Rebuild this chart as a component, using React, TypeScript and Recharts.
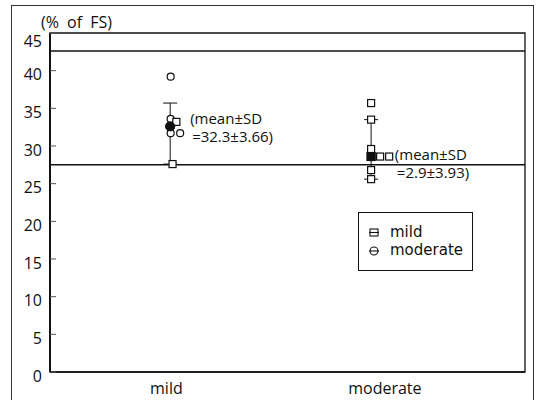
import {
  ComposedChart,
  ErrorBar,
  Legend,
  ReferenceArea,
  ReferenceDot,
  ReferenceLine,
  Scatter,
  XAxis,
  YAxis,
} from "recharts";

const categories = ["mild", "moderate"];
const categoryTicks = [2.45, 7.05];
const yTicks = [0, 5, 10, 15, 20, 25, 30, 35, 40, 45];
const limitLines = [42.6, 27.5];

// open circles, drawn in the mild column
const mildCircles = [
  { x: 2.54, y: 39.2 },
  { x: 2.54, y: 33.6 },
  { x: 2.54, y: 31.7 },
  { x: 2.74, y: 31.7 },
];
const mildSquares = [
  { x: 2.66, y: 33.2 },
  { x: 2.58, y: 27.6 },
];
// mean with [down, up] spread
const mildMean = [{ x: 2.53, y: 32.6, err: [5.0, 3.1] }];

const moderateSquares = [
  { x: 6.76, y: 35.7 },
  { x: 6.76, y: 33.5 },
  { x: 6.76, y: 29.6 },
  { x: 6.95, y: 28.6 },
  { x: 7.14, y: 28.6 },
  { x: 6.76, y: 26.8 },
  { x: 6.76, y: 25.6 },
];
const moderateMean = [{ x: 6.76, y: 28.6, err: [3.0, 4.9] }];

const notes = [
  { x: 2.95, y: 33.6, lines: ["(mean\u00b1SD", "=32.3\u00b13.66)"] },
  { x: 7.26, y: 28.8, lines: ["(mean\u00b1SD", "=2.9\u00b13.93)"] },
];

const FONT = "'Open Sans', sans-serif";
const INK = "#111";

const YTick = (props: any) => {
  const { x, y, payload } = props;
  // the top label sits a little lower in the original
  const shift = payload.value === 45 ? 8 : 4;
  return (
    <g>
      <line x1={x} x2={x + 6} y1={y} y2={y} stroke="#555" strokeWidth={1} />
      <text x={x - 8} y={y + shift} dy="0.35em" textAnchor="end" fontSize={16} fontFamily={FONT} fill={INK}>
        {payload.value}
      </text>
    </g>
  );
};

const XTick = (props: any) => {
  const { x, y, payload } = props;
  const i = categoryTicks.indexOf(payload.value);
  return (
    <text x={x} y={y + 22} textAnchor="middle" fontSize={16} fontFamily={FONT} fill={INK}>
      {categories[i]}
    </text>
  );
};

const openCircle = (props: any) => (
  <circle cx={props.cx} cy={props.cy} r={3.5} fill="#fff" stroke={INK} strokeWidth={1.2} />
);
const openSquare = (props: any) => (
  <rect x={props.cx - 3.5} y={props.cy - 3.5} width={7} height={7} fill="#fff" stroke={INK} strokeWidth={1.2} />
);
const filledCircle = (props: any) => (
  <circle cx={props.cx} cy={props.cy} r={4.5} fill={INK} stroke={INK} />
);
const filledSquare = (props: any) => (
  <rect x={props.cx - 4} y={props.cy - 4} width={8} height={8} fill={INK} stroke={INK} />
);

const NoteLabel = (text: string[]) => (props: any) => {
  const { viewBox } = props;
  const cx = viewBox.cx ?? viewBox.x;
  const cy = viewBox.cy ?? viewBox.y;
  return (
    <text fontSize={15} fontFamily={FONT} fill={INK}>
      <tspan x={cx} y={cy + 5}>{text[0]}</tspan>
      <tspan x={cx + 2} y={cy + 23}>{text[1]}</tspan>
    </text>
  );
};

const rowStyle = {
  position: "absolute" as const,
  left: 31,
  height: 18,
  lineHeight: "18px",
};

const LegendBox = () => (
  <div
    style={{
      width: 115,
      height: 59,
      border: `1px solid ${INK}`,
      background: "#fff",
      fontFamily: "'DejaVu Sans', sans-serif",
      fontSize: 15,
      color: INK,
      boxSizing: "border-box",
      position: "relative",
    }}
  >
    <svg width={20} height={50} style={{ position: "absolute", left: 5, top: 4 }}>
      <rect x={6} y={12} width={8} height={7} fill="#fff" stroke={INK} strokeWidth={1.1} />
      <line x1={5} x2={15} y1={15.5} y2={15.5} stroke={INK} strokeWidth={1.1} />
      <circle cx={10} cy={34} r={4} fill="#fff" stroke={INK} strokeWidth={1.1} />
      <line x1={5} x2={15} y1={34} y2={34} stroke={INK} strokeWidth={1.1} />
    </svg>
    <div style={{ ...rowStyle, top: 10 }}>mild</div>
    <div style={{ ...rowStyle, top: 28 }}>moderate</div>
  </div>
);

export default function App() {
  return (
    <div
      style={{
        position: "fixed",
        left: 0,
        top: 0,
        width: 540,
        height: 400,
        overflow: "hidden",
        background: "#fff",
      }}
    >
      <div
        style={{
          position: "absolute",
          left: 11,
          top: 5,
          width: 523,
          height: 420,
          border: "1px solid #333",
          boxSizing: "border-box",
        }}
      />
      <div style={{ position: "absolute", left: 0, top: 0 }}>
        <ComposedChart width={540} height={400} margin={{ top: 33, right: 15, bottom: 0, left: 0 }}>
          <XAxis
            type="number"
            dataKey="x"
            domain={[0, 10]}
            ticks={categoryTicks}
            tick={XTick}
            tickLine={false}
            tickSize={0}
            tickMargin={0}
            height={28}
            axisLine={{ stroke: INK, strokeWidth: 1.5 }}
            allowDataOverflow
          />
          <YAxis
            type="number"
            dataKey="y"
            domain={[0, 45]}
            ticks={yTicks}
            tick={YTick}
            tickLine={false}
            tickSize={0}
            tickMargin={0}
            width={50}
            axisLine={{ stroke: INK, strokeWidth: 2 }}
            interval={0}
            label={{
              content: () => (
                <text x={41} y={28} fontSize={16} fontFamily={FONT} fill={INK} wordSpacing={4}>
                  (% of FS)
                </text>
              ),
            }}
          />
          <ReferenceArea x1={0} x2={10} y1={0} y2={45} fill="none" stroke={INK} strokeWidth={1.3} strokeOpacity={1} fillOpacity={0} />
          {limitLines.map((v) => (
            <ReferenceLine key={v} y={v} stroke={INK} strokeWidth={1.5} />
          ))}
          <Scatter data={mildMean} shape={filledCircle} isAnimationActive={false}>
            <ErrorBar dataKey="err" direction="y" width={7} stroke={INK} strokeWidth={1} />
          </Scatter>
          <Scatter data={moderateMean} shape={filledSquare} isAnimationActive={false}>
            <ErrorBar dataKey="err" direction="y" width={7} stroke={INK} strokeWidth={1} />
          </Scatter>
          <Scatter data={mildCircles} shape={openCircle} isAnimationActive={false} />
          <Scatter data={mildSquares} shape={openSquare} isAnimationActive={false} />
          <Scatter data={moderateSquares} shape={openSquare} isAnimationActive={false} />
          <Scatter data={moderateMean} shape={filledSquare} isAnimationActive={false} />
          <Scatter data={mildMean} shape={filledCircle} isAnimationActive={false} />
          {notes.map((n) => (
            <ReferenceDot key={n.x} x={n.x} y={n.y} r={0} fill="none" stroke="none" label={{ content: NoteLabel(n.lines) }} />
          ))}
          <Legend
            layout="horizontal"
            verticalAlign="middle"
            align="center"
            content={LegendBox}
            wrapperStyle={{ left: 358, top: 212, width: 115, height: 59 }}
          />
        </ComposedChart>
      </div>
    </div>
  );
}
